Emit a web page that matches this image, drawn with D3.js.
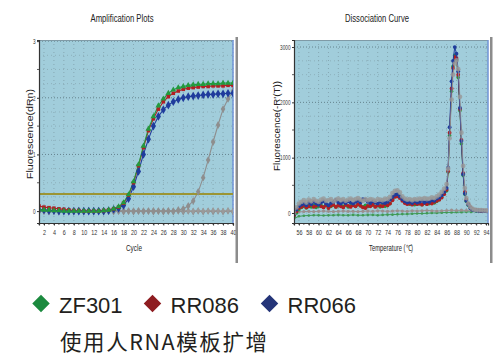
<!DOCTYPE html>
<html><head><meta charset="utf-8">
<script src="https://cdn.jsdelivr.net/npm/d3@7"></script>
<style>body{margin:0;background:#fff}svg{display:block}</style>
</head><body>
<svg id="c" width="503" height="363"></svg>
<script>
// ---------- Amplification data ----------
const cycles = [1,2,3,4,5,6,7,8,9,10,11,12,13,14,15,16,17,18,19,20,21,22,23,24,25,26,27,28,29,30,31,32,33,34,35,36,37,38,39,40];
const ampGreen = [0.03,0.02,0.02,0.01,0.01,0.0,0.0,0.0,0.0,0.0,0.0,0.0,0.0,0.01,0.02,0.04,0.08,0.15,0.29,0.52,0.82,1.15,1.45,1.67,1.86,1.98,2.08,2.14,2.18,2.2,2.22,2.23,2.24,2.24,2.25,2.25,2.25,2.26,2.26,2.26];
const ampRed = [0.09,0.07,0.06,0.05,0.04,0.03,0.02,0.01,0.01,0.0,0.0,0.0,0.0,0.01,0.02,0.04,0.07,0.14,0.28,0.5,0.8,1.12,1.42,1.63,1.8,1.93,2.02,2.08,2.12,2.15,2.17,2.18,2.19,2.2,2.2,2.21,2.21,2.21,2.22,2.22];
const ampBlue = [0.02,0.02,0.01,0.01,0.0,0.0,0.0,0.0,0.0,0.0,0.0,0.0,0.0,0.0,0.01,0.03,0.05,0.1,0.22,0.43,0.7,1.0,1.27,1.5,1.67,1.79,1.87,1.93,1.97,2.0,2.02,2.03,2.04,2.05,2.06,2.06,2.07,2.07,2.08,2.08];
const ampGrayLate = [0.0,0.0,0.0,0.0,0.0,0.0,0.0,0.0,0.0,0.0,0.0,0.0,0.0,0.0,0.0,0.0,0.0,0.0,0.0,0.0,0.0,0.0,0.0,0.0,0.0,0.0,0.0,0.0,0.02,0.04,0.09,0.18,0.34,0.59,0.9,1.22,1.52,1.8,1.98,2.12];
const ampNTC = [-0.01,0.0,-0.01,0.0,-0.01,0.0,-0.01,-0.01,0.0,-0.01,0.0,-0.01,0.0,-0.01,0.0,-0.01,0.0,-0.01,0.0,-0.01,0.0,-0.01,0.0,-0.01,0.0,-0.01,0.0,-0.01,0.0,-0.01,0.0,-0.01,0.0,-0.01,0.0,-0.01,0.0,-0.01,0.0,-0.01];
const ampNTC2 = [0.01,0.0,0.01,0.0,0.0,0.01,0.0,0.0,0.01,0.0,0.0,0.01,0.0,0.0,0.01,0.0,0.0,0.01,0.0,0.0,0.01,0.0,0.0,0.01,0.0,0.0,0.01,0.0,0.0,0.01,0.0,0.0,0.01,0.0,0.0,0.01,0.0,0.0,0.01,0.0];
const threshold = 0.3;
const ampXTicks = [2,4,6,8,10,12,14,16,18,20,22,24,26,28,30,32,34,36,38,40];
const ampYTicks = [0,1,2,3];

// ---------- Dissociation data ----------
const temps = [55,55.5,56,56.5,57,57.5,58,58.5,59,59.5,
  60,60.5,61,61.5,62,62.5,63,63.5,64,64.5,
  65,65.5,66,66.5,67,67.5,68,68.5,69,69.5,
  70,70.5,71,71.5,72,72.5,73,73.5,74,74.5,
  75,75.5,76,76.5,77,77.5,78,78.5,79,79.5,
  80,80.5,81,81.5,82,82.5,83,83.5,84,84.5,
  85,85.5,
  86,86.3,86.6,87.0,87.3,87.65,88.0,88.35,88.7,89.0,
  89.35,89.7,90.0,90.4,90.8,91.2,91.6,92.0,92.5,93.0,
  93.5,94.0,94.4];
const dissBlue = [-20,60,120,150,170,140,190,160,200,170,
  150,190,210,170,140,180,200,230,190,170,
  200,180,210,190,170,200,220,190,250,240,
  200,180,210,190,170,200,190,180,200,240,
  290,330,340,300,250,210,190,200,180,210,
  190,200,220,190,210,200,230,220,260,280,
  320,380,
  450,820,1550,2380,2750,3000,2880,2560,1900,1300,
  700,350,220,150,90,60,50,45,40,40,
  35,35,30];
const dissRed = [-40,30,90,110,140,100,120,150,110,130,
  160,120,100,140,90,130,150,110,140,120,
  100,150,130,110,140,120,160,130,100,90,
  130,120,150,110,140,130,120,160,140,170,
  230,290,300,270,220,180,160,170,150,180,
  160,170,150,180,160,190,170,200,220,240,
  280,340,
  420,760,1450,2250,2620,2820,2800,2500,1880,1320,
  720,380,240,160,100,70,55,50,45,40,
  40,35,35];
const dissGreen = [-70,0,60,100,120,90,130,110,140,100,
  120,140,110,130,90,120,140,110,130,150,
  120,140,110,130,140,120,150,130,110,140,
  120,130,140,120,130,110,140,120,130,170,
  250,310,340,300,240,190,180,160,170,150,
  160,170,150,180,160,170,190,180,210,240,
  290,360,
  400,740,1400,2200,2650,2850,2780,2450,1850,1250,
  680,340,210,140,90,60,50,45,40,40,
  35,35,30];
const dissGray = [0,100,170,200,230,190,240,210,250,220,
  200,240,260,220,230,250,210,240,260,230,
  250,220,240,260,230,250,270,240,220,250,
  230,250,240,220,250,240,230,260,250,290,
  360,400,410,370,300,260,240,250,230,250,
  240,260,250,270,250,260,280,270,300,330,
  380,440,
  520,800,1350,2050,2500,2700,2760,2600,2100,1450,
  850,450,270,170,110,80,60,55,50,50,
  45,45,40];
const ntcTemps = [55,56,57,58,59,60,61,62,63,64,65,66,67,68,69,70,71,72,73,74,75,76,77,78,79,80,81,82,83,84,85,86,87,88,89,90,91,92,93,94,94.4];
const ntcGray = [10,20,25,30,25,30,35,30,25,30,35,30,30,25,30,35,30,40,35,30,35,40,35,30,40,35,40,45,40,35,40,45,50,45,50,45,50,45,50,45,50];
const ntcGreen = [-100,-60,-50,-45,-40,-40,-45,-40,-40,-35,-40,-40,-35,-40,-40,-35,-35,-40,-35,-30,-30,-25,-20,-20,-15,-10,-10,-5,0,0,5,10,10,15,15,20,20,25,25,30,30];
const dissXTicks = [56,58,60,62,64,66,68,70,72,74,76,78,80,82,84,86,88,90,92,94];
const dissYTicks = [0,1000,2000,3000];

// ---------- Legend ----------
const legendNames = ["ZF301","RR086","RR066"];
const legendColors = ["#1b8a3e","#8e1c20","#243478"];
const caption = "使用人RNA模板扩增";

// colours for plotted series
const cGreen = "#239a3e", cRed = "#b21f22", cBlue = "#1f3c9c", cGray = "#8e8e8e";
const bg = "#a1cddb";
const sans = "'Liberation Sans',Arial,sans-serif";

const svg = d3.select("#c");

function squeeze(sel, perChar) {
  sel.each(function () {
    const t = d3.select(this);
    t.attr("textLength", t.text().length * perChar).attr("lengthAdjust", "spacingAndGlyphs");
  });
}

function drawPanel(cfg) {
  const g = svg.append("g");
  const [x0, x1] = cfg.x.range();
  const [y0, y1] = cfg.y.range();
  const clipId = "clip" + cfg.id;
  svg.append("clipPath").attr("id", clipId).append("rect")
    .attr("x", x0).attr("y", y1).attr("width", x1 - x0).attr("height", y0 - y1);
  g.append("rect").attr("x", x0).attr("y", y1).attr("width", x1 - x0).attr("height", y0 - y1).attr("fill", bg);
  const grid = g.append("g");
  grid.selectAll("line.v").data(cfg.vGrid).join("line")
    .attr("x1", d => cfg.x(d)).attr("x2", d => cfg.x(d))
    .attr("y1", y1).attr("y2", y0)
    .attr("stroke", "#7f9ea8").attr("stroke-width", 0.8).attr("stroke-dasharray", "1,3");
  grid.selectAll("line.h").data(cfg.hGrid).join("line")
    .attr("x1", x0).attr("x2", x1)
    .attr("y1", d => cfg.y(d)).attr("y2", d => cfg.y(d))
    .attr("stroke", d => cfg.hMajor(d) ? "#5d7a84" : "#84a3ad")
    .attr("stroke-width", d => cfg.hMajor(d) ? 0.9 : 0.7)
    .attr("stroke-dasharray", d => cfg.hMajor(d) ? "1,2" : "1,3");
  g.append("line").attr("x1", x0).attr("x2", x1).attr("y1", y1 + 0.5).attr("y2", y1 + 0.5).attr("stroke", "#7f9aa6").attr("stroke-width", 1);
  g.append("line").attr("x1", x1).attr("x2", x1).attr("y1", y1).attr("y2", y0).attr("stroke", "#6f93d6").attr("stroke-width", 1.5);
  const data = g.append("g").attr("clip-path", `url(#${clipId})`);
  cfg.draw(data);
  const ax = g.append("g").attr("transform", `translate(${x0},0)`)
    .call(d3.axisLeft(cfg.y).tickValues(cfg.yTicks).tickSize(2).tickPadding(1.5).tickFormat(cfg.yFmt));
  ax.select(".domain").attr("stroke", "#333").attr("stroke-width", 1.2);
  ax.selectAll("text").attr("font-family", sans).attr("font-size", 7).attr("fill", "#333").call(squeeze, 2.6);
  ax.selectAll(".tick line").attr("stroke", "#333");
  g.append("g").selectAll("line").data(cfg.yMinor).join("line")
    .attr("x1", x0 - 2).attr("x2", x0).attr("y1", d => cfg.y(d)).attr("y2", d => cfg.y(d)).attr("stroke", "#333").attr("stroke-width", 0.8);
  const bx = g.append("g").attr("transform", `translate(0,${y0})`)
    .call(d3.axisBottom(cfg.x).tickValues(cfg.xTicks).tickSize(2.5).tickPadding(4.5));
  bx.select(".domain").attr("stroke", "#333").attr("stroke-width", 1.2);
  bx.selectAll("text").attr("font-family", sans).attr("font-size", 7.5).attr("fill", "#333").call(squeeze, 3);
  bx.selectAll(".tick line").attr("stroke", "#333");
  g.append("g").selectAll("line").data(cfg.xMinor).join("line")
    .attr("x1", d => cfg.x(d)).attr("x2", d => cfg.x(d)).attr("y1", y0).attr("y2", y0 + 2).attr("stroke", "#333").attr("stroke-width", 0.7);
  g.append("text").attr("x", cfg.titleX).attr("y", 22).attr("text-anchor", "middle")
    .attr("font-family", sans).attr("font-size", 10.5).attr("fill", "#222")
    .attr("textLength", cfg.titleW).attr("lengthAdjust", "spacingAndGlyphs").text(cfg.title);
  g.append("text").attr("x", cfg.xLabelX).attr("y", 251).attr("text-anchor", "middle")
    .attr("font-family", sans).attr("font-size", 8.5).attr("fill", "#222")
    .attr("textLength", cfg.xLabelW).attr("lengthAdjust", "spacingAndGlyphs").text(cfg.xLabel);
  g.append("text").attr("transform", `translate(${cfg.yLabelX},${cfg.yLabelY}) rotate(-90)`).attr("text-anchor", "middle")
    .attr("font-family", sans).attr("font-size", 9).attr("fill", "#222")
    .attr("textLength", cfg.yLabelW).attr("lengthAdjust", "spacingAndGlyphs").text(cfg.yLabel);
  g.append("rect").attr("x", cfg.barX).attr("y", 37).attr("width", 2.5).attr("height", 226).attr("fill", "#8c8c8c");
}

function markerPath(type, s) {
  const sym = {tri: d3.symbolTriangle, sq: d3.symbolSquare, dia: d3.symbolDiamond, cir: d3.symbolCircle}[type];
  return d3.symbol(sym, s)();
}

// ---------- Amplification panel ----------
const xA = d3.scaleLinear([1, 40], [39, 233]);
const yA = d3.scaleLinear([-0.21, 3.02], [223, 40]);
drawPanel({
  id: "A", x: xA, y: yA,
  vGrid: ampXTicks, hGrid: d3.range(0, 3.01, 0.25), hMajor: d => Math.abs(d - Math.round(d)) < 1e-6 && d > 0,
  yTicks: ampYTicks, yFmt: d3.format("d"), yMinor: [0.5, 1.5, 2.5],
  xTicks: ampXTicks, xMinor: cycles,
  title: "Amplification Plots", titleX: 122, titleW: 63,
  xLabel: "Cycle", xLabelX: 134, xLabelW: 16,
  yLabel: "Fluorescence(dRn)", yLabelX: 33, yLabelY: 134, yLabelW: 90, barX: 235.5,
  draw: (gg) => {
    const line = d3.line().x((d, i) => xA(cycles[i])).y(d => yA(d));
    const series = [
      {v: ampNTC, c: cGray, m: "dia", s: 16},
      {v: ampNTC2, c: "#9a9a9a", m: "dia", s: 14},
      {v: ampGrayLate, c: cGray, m: "dia", s: 18},
      {v: ampBlue, c: cBlue, m: "dia", s: 22},
      {v: ampRed, c: cRed, m: "sq", s: 13},
      {v: ampGreen, c: cGreen, m: "tri", s: 15}
    ];
    series.forEach(sr => {
      gg.append("path").attr("d", line(sr.v)).attr("fill", "none").attr("stroke", sr.c).attr("stroke-width", 1.1);
    });
    gg.append("line").attr("x1", xA.range()[0]).attr("x2", xA.range()[1])
      .attr("y1", yA(threshold)).attr("y2", yA(threshold)).attr("stroke", "#9b9534").attr("stroke-width", 2);
    series.forEach(sr => {
      gg.append("g").selectAll("path").data(sr.v).join("path")
        .attr("transform", (d, i) => `translate(${xA(cycles[i])},${yA(d)})`)
        .attr("d", markerPath(sr.m, sr.s)).attr("fill", sr.c);
    });
  }
});

// ---------- Dissociation panel ----------
const xD = d3.scaleLinear([55, 94.4], [294, 488]);
const yD = d3.scaleLinear([-181, 3127], [223, 40]);
drawPanel({
  id: "D", x: xD, y: yD,
  vGrid: dissXTicks, hGrid: d3.range(0, 3001, 250), hMajor: d => d % 1000 === 0 && d > 0,
  yTicks: dissYTicks, yFmt: d3.format("d"), yMinor: [500, 1500, 2500],
  xTicks: dissXTicks, xMinor: ntcTemps.slice(0, 40),
  title: "Dissociation Curve", titleX: 377, titleW: 64,
  xLabel: "Temperature (\u2103)", xLabelX: 391, xLabelW: 44,
  yLabel: "Fluorescence(-R'(T))", yLabelX: 280, yLabelY: 126, yLabelW: 90, barX: 490,
  draw: (gg) => {
    const line = (tt) => d3.line().x((d, i) => xD(tt[i])).y(d => yD(d));
    const series = [
      {t: ntcTemps, v: ntcGreen, c: "#3f9a55", r: 1.3},
      {t: ntcTemps, v: ntcGray, c: "#9a8e8e", r: 1.6},
      {t: temps, v: dissGreen, c: cGreen, r: 1.8},
      {t: temps, v: dissRed, c: cRed, r: 1.9},
      {t: temps, v: dissBlue, c: cBlue, r: 1.9},
      {t: temps, v: dissGray, c: "#999", r: 2.4, o: 0.8}
    ];
    series.forEach(sr => {
      gg.append("path").attr("d", line(sr.t)(sr.v)).attr("fill", "none").attr("stroke", sr.c).attr("stroke-width", 1).attr("opacity", sr.o || 1);
      gg.append("g").selectAll("circle").data(sr.v).join("circle")
        .attr("cx", (d, i) => xD(sr.t[i])).attr("cy", d => yD(d)).attr("r", sr.r)
        .attr("fill", sr.c).attr("opacity", sr.o || 1);
    });
  }
});

// ---------- Legend ----------
const legX = [41, 152.5, 269.5];
const lg = svg.append("g");
legendNames.forEach((n, i) => {
  lg.append("rect").attr("x", -6.2).attr("y", -6.2).attr("width", 12.4).attr("height", 12.4)
    .attr("transform", `translate(${legX[i]},303.5) rotate(45)`).attr("fill", legendColors[i]);
  lg.append("text").attr("x", legX[i] + 18).attr("y", 313)
    .attr("font-family", sans).attr("font-size", 22).attr("fill", "#231f20").text(n);
});
lg.append("text").attr("x", 60).attr("y", 350).attr("textLength", 207).attr("lengthAdjust", "spacing")
  .attr("font-family", "'Noto Sans CJK SC',sans-serif").attr("font-size", 21.5).attr("fill", "#231f20").text(caption);
</script>
</body></html>
